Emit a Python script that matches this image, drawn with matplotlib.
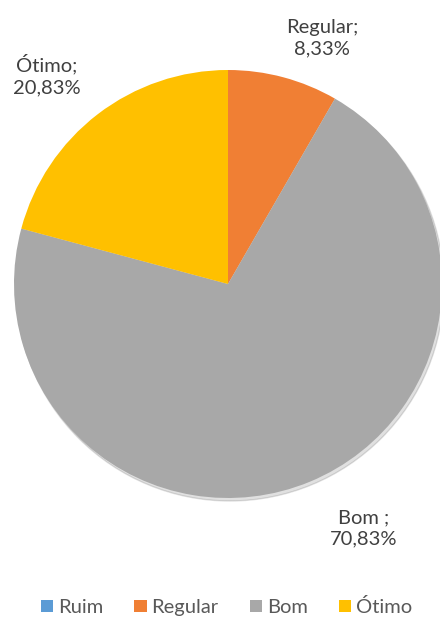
import matplotlib.pyplot as plt
from matplotlib.patches import Patch

categorias = ['Ruim', 'Regular', 'Bom', 'Ótimo']
valores = [0.0, 8.33, 70.83, 20.83]
cores = ['#5B9BD5', '#F07F34', '#A8A8A8', '#FFC000']
rotulos = ['', 'Regular;\n8,33%', 'Bom ;\n70,83%', 'Ótimo;\n20,83%']

plt.rcParams['font.family'] = ['Lato', 'DejaVu Sans']

fig = plt.figure(figsize=(4.4, 6.17), dpi=100)
ax = fig.add_axes([0, 0, 1, 1])

cx, cy, r = 228, 617 - 284, 214

# sombra leve
sombra = plt.Circle((cx + 2, cy - 3), r, color='#000000', alpha=0.12, zorder=0)
ax.add_patch(sombra)

ax.pie(valores, colors=cores, startangle=90, counterclock=False,
       center=(cx, cy), radius=r, frame=True,
       wedgeprops=dict(linewidth=0, zorder=1))
ax.set_xlim(0, 440)
ax.set_ylim(0, 617)
ax.set_aspect('equal')
ax.axis('off')

# posições dos rótulos (em pixels)
pos = {1: (322, 617 - 38), 2: (364, 617 - 528), 3: (47, 617 - 75)}
for i, (x, y) in pos.items():
    ax.text(x, y, rotulos[i], ha='center', va='center', fontsize=14.5,
            color='#404040', linespacing=1.3)

handles = [Patch(facecolor=c, edgecolor='none') for c in cores]
fig.legend(handles, categorias, loc='center', bbox_to_anchor=(0.515, 1 - 607 / 617),
           ncol=4, frameon=False, fontsize=14.5, handlelength=0.6, handleheight=0.6,
           handletextpad=0.25, columnspacing=1.55, labelcolor='#595959')

fig.savefig('out.png', dpi=100)
